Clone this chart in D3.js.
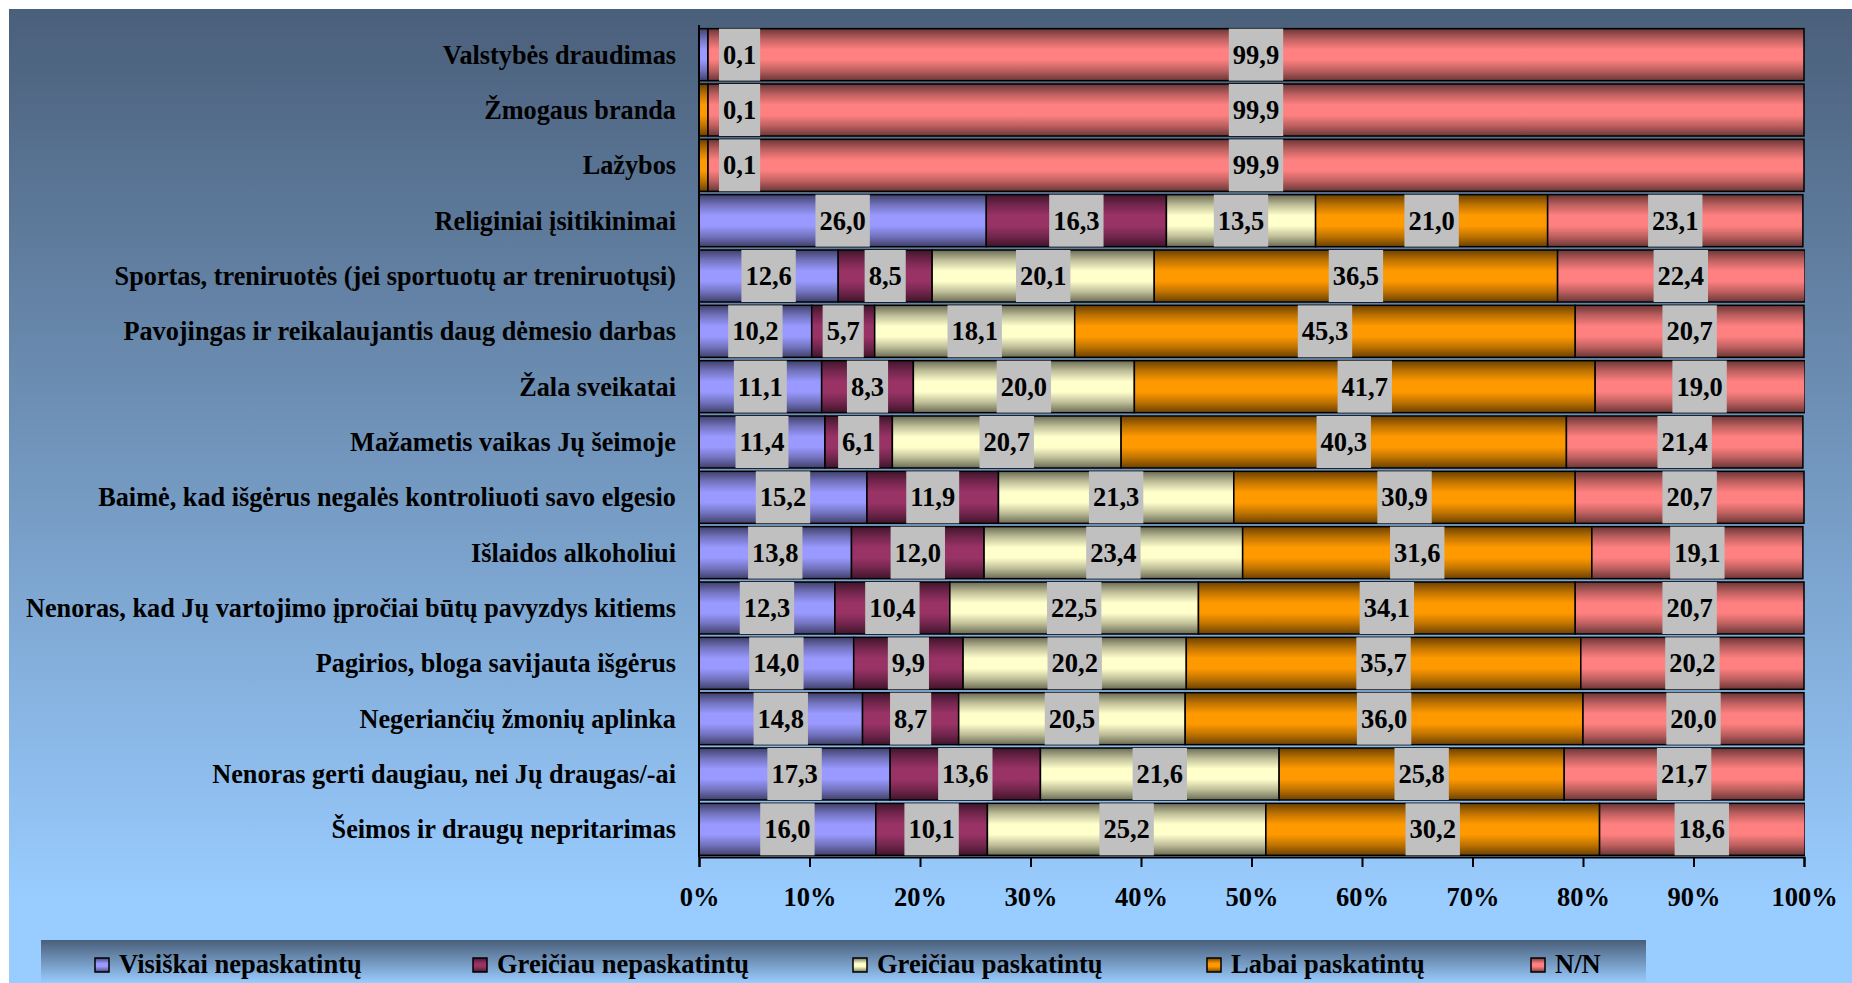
<!DOCTYPE html>
<html>
<head>
<meta charset="utf-8">
<script src="https://cdn.jsdelivr.net/npm/d3@7"></script>
<style>
  html, body { margin: 0; padding: 0; background: #fff; }
  svg { display: block; }
  text { font-family: "Liberation Serif", "Times New Roman", serif; font-weight: bold; fill: #000; }
</style>
</head>
<body>
<svg width="1852" height="983"></svg>
<script>
const categories = [
  "Valstybės draudimas",
  "Žmogaus branda",
  "Lažybos",
  "Religiniai įsitikinimai",
  "Sportas, treniruotės (jei sportuotų ar treniruotųsi)",
  "Pavojingas ir reikalaujantis daug dėmesio darbas",
  "Žala sveikatai",
  "Mažametis vaikas Jų šeimoje",
  "Baimė, kad išgėrus negalės kontroliuoti savo elgesio",
  "Išlaidos alkoholiui",
  "Nenoras, kad Jų vartojimo įpročiai būtų pavyzdys kitiems",
  "Pagirios, bloga savijauta išgėrus",
  "Negeriančių žmonių aplinka",
  "Nenoras gerti daugiau, nei Jų draugas/-ai",
  "Šeimos ir draugų nepritarimas"
];

const seriesNames = ["Visiškai nepaskatintų", "Greičiau nepaskatintų", "Greičiau paskatintų", "Labai paskatintų", "N/N"];

const visiskaiNe = [0.1, 0, 0, 26.0, 12.6, 10.2, 11.1, 11.4, 15.2, 13.8, 12.3, 14.0, 14.8, 17.3, 16.0];
const greiciauNe = [0, 0, 0, 16.3, 8.5, 5.7, 8.3, 6.1, 11.9, 12.0, 10.4, 9.9, 8.7, 13.6, 10.1];
const greiciauTaip = [0, 0, 0, 13.5, 20.1, 18.1, 20.0, 20.7, 21.3, 23.4, 22.5, 20.2, 20.5, 21.6, 25.2];
const labaiTaip = [0, 0.1, 0.1, 21.0, 36.5, 45.3, 41.7, 40.3, 30.9, 31.6, 34.1, 35.7, 36.0, 25.8, 30.2];
const nn = [99.9, 99.9, 99.9, 23.1, 22.4, 20.7, 19.0, 21.4, 20.7, 19.1, 20.7, 20.2, 20.0, 21.7, 18.6];

const xTicks = [0, 10, 20, 30, 40, 50, 60, 70, 80, 90, 100];

const seriesValues = [visiskaiNe, greiciauNe, greiciauTaip, labaiTaip, nn];
const colors = ["#9999ff", "#993366", "#ffffcc", "#ff9900", "#ff8080"];

const rows = categories.map((c, i) => {
  const row = { category: c };
  seriesNames.forEach((s, j) => (row[s] = seriesValues[j][i]));
  return row;
});

const svg = d3.select("svg");
const defs = svg.append("defs");

// background gradients
const bg = defs.append("linearGradient").attr("id", "bg")
  .attr("gradientUnits", "userSpaceOnUse")
  .attr("x1", 0).attr("y1", 9).attr("x2", 0).attr("y2", 900);
bg.append("stop").attr("offset", 0).attr("stop-color", "#4a5f7a");
bg.append("stop").attr("offset", 1).attr("stop-color", "#99ccff");

const lg = defs.append("linearGradient").attr("id", "lg")
  .attr("x1", 0).attr("y1", 0).attr("x2", 0).attr("y2", 1);
lg.append("stop").attr("offset", 0).attr("stop-color", "#4a5f7a");
lg.append("stop").attr("offset", 1).attr("stop-color", "#99ccff");

// tube-like gradient per series
colors.forEach((c, i) => {
  const dark = d3.interpolateRgb(c, "#000")(0.58);
  const mid = d3.interpolateRgb(c, "#000")(0.25);
  const g = defs.append("linearGradient").attr("id", "g" + i)
    .attr("x1", 0).attr("y1", 0).attr("x2", 0).attr("y2", 1);
  g.append("stop").attr("offset", 0).attr("stop-color", dark);
  g.append("stop").attr("offset", 0.2).attr("stop-color", mid);
  g.append("stop").attr("offset", 0.4).attr("stop-color", c);
  g.append("stop").attr("offset", 0.6).attr("stop-color", c);
  g.append("stop").attr("offset", 0.8).attr("stop-color", mid);
  g.append("stop").attr("offset", 1).attr("stop-color", dark);
});

svg.append("rect").attr("x", 9).attr("y", 9).attr("width", 1843).attr("height", 974).attr("fill", "url(#bg)");

const plotLeft = 699, plotRight = 1804, plotTop = 27, plotBottom = 857;

const x = d3.scaleLinear([0, 100], [plotLeft, plotRight]);
const y = d3.scaleBand(categories, [plotTop, plotBottom]).paddingInner(0.06).paddingOuter(0.03);

defs.append("clipPath").attr("id", "plotClip")
  .append("rect").attr("x", plotLeft).attr("y", 0).attr("width", plotRight - plotLeft + 1).attr("height", plotBottom + 2);

const stacked = d3.stack().keys(seriesNames)(rows);

// segments; tiny values get a minimum visible width like the original
const segs = [];
rows.forEach((row, i) => {
  let prevEnd = plotLeft;
  stacked.forEach((layer, j) => {
    const v = row[layer.key];
    if (!v) return;
    const x0 = Math.max(x(layer[i][0]), prevEnd);
    const x1 = Math.max(x(layer[i][1]), x0 + 9);
    prevEnd = x1;
    segs.push({ category: row.category, series: j, value: v, x0, x1 });
  });
});

const plot = svg.append("g");
const bars = plot.append("g").attr("clip-path", "url(#plotClip)");

bars.selectAll(".bar")
  .data(segs)
  .join("rect")
  .attr("class", "bar")
  .attr("x", (d) => d.x0)
  .attr("y", (d) => y(d.category))
  .attr("width", (d) => d.x1 - d.x0)
  .attr("height", y.bandwidth())
  .attr("fill", (d) => "url(#g" + d.series + ")")
  .attr("stroke", "#000")
  .attr("stroke-width", 1.5);

// value labels with grey boxes
const fmt = (v) => d3.format(".1f")(v).replace(".", ",");
const labels = plot.append("g").selectAll(".lab")
  .data(segs)
  .join("g")
  .attr("class", "lab");

labels.append("text")
  .attr("text-anchor", "middle")
  .attr("dy", "0.34em")
  .style("font-size", "26.5px")
  .text((d) => fmt(d.value));

labels.each(function (d) {
  const g = d3.select(this);
  const w = g.select("text").node().getComputedTextLength() + 8;
  const cx = Math.max((Math.max(d.x0, plotLeft) + Math.min(d.x1, plotRight)) / 2, plotLeft + 20 + w / 2);
  const cy = y(d.category) + y.bandwidth() / 2;
  g.attr("transform", `translate(${cx},${cy})`);
  g.insert("rect", "text")
    .attr("x", -w / 2)
    .attr("y", -y.bandwidth() / 2)
    .attr("width", w)
    .attr("height", y.bandwidth())
    .attr("fill", "#c0c0c0");
});

// category labels
plot.append("g").selectAll(".cat")
  .data(categories)
  .join("text")
  .attr("class", "cat")
  .attr("x", plotLeft - 23)
  .attr("y", (d) => y(d) + y.bandwidth() / 2)
  .attr("dy", "0.34em")
  .attr("text-anchor", "end")
  .style("font-size", "26.25px")
  .text((d) => d);

// axes
const axisX = d3.axisBottom(x).tickValues(xTicks).tickSize(10).tickPadding(20).tickFormat((d) => d + "%");
const gx = svg.append("g").attr("transform", `translate(0,${plotBottom})`).call(axisX);
gx.select(".domain").attr("stroke", "#000").attr("stroke-width", 2);
gx.selectAll(".tick line").attr("stroke", "#000").attr("stroke-width", 2);
gx.selectAll(".tick text").style("font-size", "26.5px").attr("font-family", null);

svg.append("line")
  .attr("x1", plotLeft).attr("x2", plotLeft)
  .attr("y1", 25).attr("y2", plotBottom)
  .attr("stroke", "#000").attr("stroke-width", 2);

// legend
svg.append("rect").attr("x", 41).attr("y", 940).attr("width", 1605).attr("height", 43).attr("fill", "url(#lg)");
const legendX = [95, 473, 853, 1207, 1531];
const legend = svg.append("g").selectAll(".leg")
  .data(seriesNames)
  .join("g")
  .attr("class", "leg")
  .attr("transform", (d, i) => `translate(${legendX[i]},958)`);
legend.append("rect")
  .attr("width", 14).attr("height", 14)
  .attr("fill", (d, i) => "url(#g" + i + ")")
  .attr("stroke", "#000").attr("stroke-width", 1.5);
legend.append("text")
  .attr("x", 24).attr("y", 15)
  .style("font-size", "26.5px")
  .text((d) => d);
</script>
</body>
</html>
